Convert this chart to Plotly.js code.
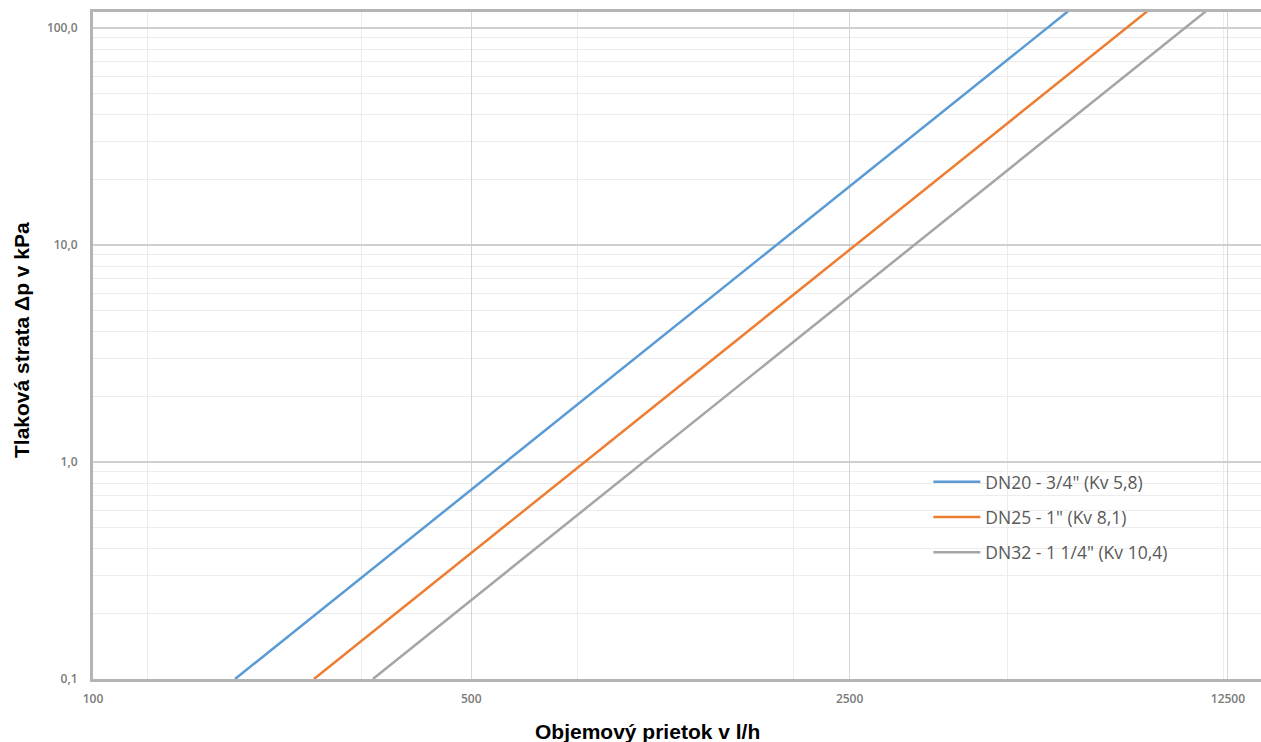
<!DOCTYPE html>
<html>
<head>
<meta charset="utf-8">
<script src="https://cdn.plot.ly/plotly-3.0.1.min.js"></script>
<style>html,body{margin:0;padding:0;background:#fff;}#chart{width:1261px;height:742px;}</style>
</head>
<body>
<div id="chart"></div>
<script>
// Series (flow l/h, pressure loss kPa)
const names = ['DN20 - 3/4" (Kv 5,8)', 'DN25 - 1" (Kv 8,1)', 'DN32 - 1 1/4" (Kv 10,4)'];
const colors = ['#5B9BD5', '#ED7D31', '#A5A5A5'];
const flowDN20 = [183, 1050, 6400];
const dpDN20   = [0.1, 3.3, 122];
const flowDN25 = [256, 1470, 9000];
const dpDN25   = [0.1, 3.3, 123];
const flowDN32 = [329, 1900, 11500];
const dpDN32   = [0.1, 3.34, 122];

// Axis ticks
const xTickVals = [100, 500, 2500, 12500];
const xTickText = ['100', '500', '2500', '12500'];
const xMinorVals = [126, 314, 786, 1965, 4900, 12250];
const yTickVals = [0.1, 1, 10, 100];
const yTickText = ['0,1', '1,0', '10,0', '100,0'];
const yMinorVals = [0.2,0.3,0.4,0.5,0.6,0.7,0.8,0.9, 2,3,4,5,6,7,8,9, 20,30,40,50,60,70,80,90];

const flows = [flowDN20, flowDN25, flowDN32];
const dps = [dpDN20, dpDN25, dpDN32];

const traces = names.map((n, i) => ({
  type: 'scatter', mode: 'lines', name: n,
  x: flows[i], y: dps[i],
  line: {color: colors[i], width: 2.5},
  legendgroup: 'g' + i
}));

const tickFont = {family: 'Open Sans, sans-serif', size: 12, weight: 600, color: '#7a7a7a'};

const layout = {
  width: 1261, height: 742,
  margin: {l: 93, r: 0, t: 12, b: 63},
  paper_bgcolor: '#ffffff', plot_bgcolor: '#ffffff',
  showlegend: true,
  legend: {
    x: 0.7152, y: 0.3225, xanchor: 'left', yanchor: 'top',
    bgcolor: 'rgba(0,0,0,0)', borderwidth: 0,
    font: {family: 'Open Sans, sans-serif', size: 17.5, color: '#595959'},
    tracegroupgap: 9.5, itemwidth: 47
  },
  xaxis: {
    type: 'log', range: [2, 4.158],
    tickmode: 'array', tickvals: xTickVals, ticktext: xTickText,
    tickfont: tickFont, ticks: 'outside', ticklen: 7, tickcolor: 'rgba(0,0,0,0)',
    showgrid: true, gridcolor: '#d6d6d6', gridwidth: 1,
    minor: {tickmode: 'array', tickvals: xMinorVals, showgrid: true, gridcolor: '#ececec', gridwidth: 1, ticks: ''},
    showline: true, linecolor: '#b4b4b4', linewidth: 3, mirror: true,
    zeroline: false, fixedrange: true
  },
  yaxis: {
    type: 'log', range: [-1, 2.0737],
    tickmode: 'array', tickvals: yTickVals, ticktext: yTickText,
    tickfont: tickFont, ticks: 'outside', ticklen: 10, tickcolor: 'rgba(0,0,0,0)',
    showgrid: true, gridcolor: '#cfcfcf', gridwidth: 1.5,
    minor: {tickmode: 'array', tickvals: yMinorVals, showgrid: true, gridcolor: '#ececec', gridwidth: 1, ticks: ''},
    showline: true, linecolor: '#b4b4b4', linewidth: 3,
    zeroline: false, fixedrange: true
  },
  shapes: [{
    type: 'rect', xref: 'paper', yref: 'paper', layer: 'between',
    x0: (898 - 93) / 1168, x1: (1212 - 93) / 1168,
    y0: (679 - 585) / 667, y1: (679 - 453) / 667,
    fillcolor: '#ffffff', line: {width: 0}
  }],
  annotations: [
    {text: '<b>Objemový prietok v l/h</b>', xref: 'paper', yref: 'paper',
     x: (647 - 93) / 1168, y: -(731 - 679) / 667, xanchor: 'center', yanchor: 'middle',
     showarrow: false, font: {family: 'Liberation Sans, Arial, sans-serif', size: 21, color: '#000'}},
    {text: '<b>Tlaková strata Δp v kPa</b>', xref: 'paper', yref: 'paper', textangle: -90,
     x: -(93 - 21) / 1168, y: (679 - 340) / 667, xanchor: 'center', yanchor: 'middle',
     showarrow: false, font: {family: 'Liberation Sans, Arial, sans-serif', size: 21, color: '#000'}}
  ]
};

Plotly.newPlot('chart', traces, layout, {displayModeBar: false, staticPlot: true});
</script>
</body>
</html>
